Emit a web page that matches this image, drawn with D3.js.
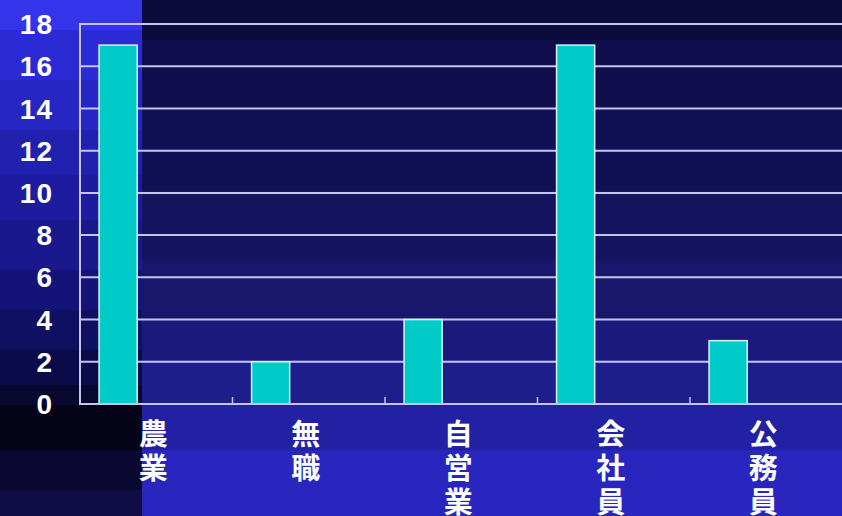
<!DOCTYPE html>
<html>
<head>
<meta charset="utf-8">
<script src="https://cdn.jsdelivr.net/npm/d3@7"></script>
<style>
  html, body { margin: 0; padding: 0; background: #10104a; }
  svg { display: block; }
</style>
</head>
<body>
<div class="canvas"></div>
<script>
// chart data
const categories = ['農業', '無職', '自営業', '会社員', '公務員'];
const counts = [17, 2, 4, 17, 3];
const yTicks = [0, 2, 4, 6, 8, 10, 12, 14, 16, 18];

const dims = { w: 842, h: 516 };
const plot = { left: 80, right: 842.5, top: 24, bottom: 404 };

const svg = d3.select('.canvas')
  .append('svg')
    .attr('width', dims.w)
    .attr('height', dims.h);

// stepped background bands (right part dark -> bright, left strip bright -> dark)
const splitX = 142;
const rightBands = [
  [0, '#0d0b3c'], [40, '#100e4c'], [110, '#121054'], [190, '#15145e'],
  [260, '#18176c'], [320, '#1b1a7c'], [360, '#1e1d8c'], [404, '#2221a4'],
  [450, '#2826be']
];
const leftBands = [
  [0, '#3434ea'], [30, '#2b2bd6'], [80, '#2626c4'], [130, '#2121b0'],
  [175, '#1d1ca0'], [220, '#19188c'], [270, '#141478'], [310, '#101062'],
  [350, '#0c0b4a'], [385, '#080730'], [405, '#050318'], [450, '#0a0830'],
  [490, '#0f0d46']
];

const drawBands = (bands, x0, x1) => {
  bands.forEach((b, i) => {
    const y1 = i < bands.length - 1 ? bands[i + 1][0] : dims.h;
    svg.append('rect')
      .attr('x', x0).attr('y', b[0])
      .attr('width', x1 - x0).attr('height', y1 - b[0])
      .attr('fill', b[1]);
  });
};
drawBands(rightBands, splitX, dims.w);
drawBands(leftBands, 0, splitX);

// scales
const x = d3.scaleBand()
  .domain(categories)
  .range([plot.left, plot.right])
  .paddingInner(0).paddingOuter(0);

// clustered slot layout: 3 series slots, gap equal to one bar
const bw = x.bandwidth();
const slot = d3.scaleBand()
  .domain([0, 1, 2])
  .range([bw / 8, bw * 7 / 8]);

const y = d3.scaleLinear()
  .domain([0, 18])
  .range([plot.bottom, plot.top]);

const lineColor = '#c4c4ee';

// gridlines
svg.append('g')
  .selectAll('line')
  .data(yTicks.filter(t => t > 0))
  .enter().append('line')
    .attr('x1', plot.left).attr('x2', dims.w)
    .attr('y1', d => y(d)).attr('y2', d => y(d))
    .attr('stroke', lineColor)
    .attr('stroke-width', 2);

// bars
svg.append('g')
  .selectAll('rect')
  .data(counts)
  .enter().append('rect')
    .attr('x', (d, i) => x(categories[i]) + slot(0))
    .attr('y', d => y(d))
    .attr('width', slot.bandwidth())
    .attr('height', d => y(0) - y(d))
    .attr('fill', '#00cbc8')
    .attr('stroke', '#d8f4f4')
    .attr('stroke-width', 1.5);

// axes lines
svg.append('line')
  .attr('x1', plot.left).attr('x2', plot.left)
  .attr('y1', plot.top - 1).attr('y2', plot.bottom + 1)
  .attr('stroke', lineColor).attr('stroke-width', 2);

svg.append('line')
  .attr('x1', plot.left).attr('x2', dims.w)
  .attr('y1', plot.bottom).attr('y2', plot.bottom)
  .attr('stroke', lineColor).attr('stroke-width', 2);

// category separator ticks
svg.append('g')
  .selectAll('line')
  .data(categories.slice(1))
  .enter().append('line')
    .attr('x1', d => x(d)).attr('x2', d => x(d))
    .attr('y1', plot.bottom).attr('y2', plot.bottom - 7)
    .attr('stroke', lineColor).attr('stroke-width', 1.5);

// y tick labels
svg.append('g')
  .selectAll('text')
  .data(yTicks)
  .enter().append('text')
    .attr('x', 53)
    .attr('y', d => y(d))
    .attr('dy', '0.36em')
    .attr('text-anchor', 'end')
    .attr('fill', '#ffffff')
    .attr('font-family', 'Liberation Sans, Arial, sans-serif')
    .attr('font-weight', 700)
    .attr('font-size', 28)
    .attr('letter-spacing', 1)
    .text(d => d);

// vertical category labels, one character per line
const labels = svg.append('g')
  .selectAll('text')
  .data(categories)
  .enter().append('text')
    .attr('text-anchor', 'middle')
    .attr('fill', '#ffffff')
    .attr('font-family', 'Noto Sans CJK JP, sans-serif')
    .attr('font-weight', 700)
    .attr('font-size', 29);

labels.selectAll('tspan')
  .data(d => Array.from(d).map(ch => ({ ch, cat: d })))
  .enter().append('tspan')
    .attr('x', d => x(d.cat) + bw / 2 - 3)
    .attr('y', (d, i) => 445 + i * 34)
    .text(d => d.ch);
</script>
</body>
</html>
